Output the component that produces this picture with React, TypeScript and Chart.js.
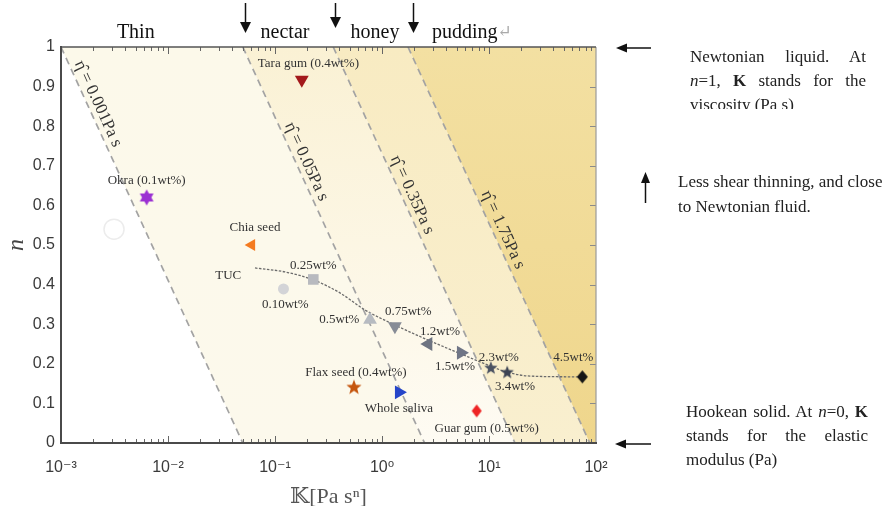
import React, { useEffect, useRef } from 'react';
import { Chart, registerables } from 'chart.js';

Chart.register(...registerables);

const SERIF = "'Liberation Serif', 'Times New Roman', 'DejaVu Serif', 'DejaVu Sans', serif";
const SANS = "'Liberation Sans', Arial, 'DejaVu Sans', sans-serif";

// ---------------- data ----------------
const X_MIN = 1e-3;
const X_MAX = 1e2;

// iso-viscosity lines (eta_hat) : K at n = 1 and K at n = 0
const etaLabels = ['0.001', '0.05', '0.35', '1.75'];
const lineKAtN1 = [0.001, 0.05, 0.35, 1.75];
const lineKAtN0 = [0.05, 2.5, 17.5, 87.5];
const etaLabelN = [0.846, 0.70, 0.616, 0.528];

// texture regimes above the plot
const regimeLabels = ['Thin', 'nectar', 'honey', 'pudding'];
const regimeLabelK = [0.005, 0.124, 0.86, 2.93];
const regimeArrowK = [0.0525, 0.364, 1.95];

// individual samples
const sampleNames = ['Tara gum (0.4wt%)', 'Okra (0.1wt%)', 'Chia seed', 'Flax seed (0.4wt%)', 'Whole saliva', 'Guar gum (0.5wt%)'];
const sampleK = [0.178, 0.00632, 0.0605, 0.547, 1.44, 7.67];
const sampleN = [0.917, 0.620, 0.500, 0.140, 0.128, 0.081];

// TUC series
const tucConc = ['0.10wt%', '0.25wt%', '0.5wt%', '0.75wt%', '1.2wt%', '1.5wt%', '2.3wt%', '3.4wt%', '4.5wt%'];
const tucK = [0.120, 0.228, 0.773, 1.32, 2.71, 5.47, 10.4, 14.8, 74.5];
const tucN = [0.389, 0.413, 0.311, 0.295, 0.250, 0.228, 0.189, 0.178, 0.167];

// TUC trend curve
const fitK = [0.065, 0.124, 0.228, 0.405, 0.693, 1.32, 2.69, 5.47, 10.4, 14.7, 24.2, 74.5];
const fitN = [0.442, 0.432, 0.412, 0.379, 0.336, 0.298, 0.260, 0.225, 0.194, 0.179, 0.169, 0.167];

// faint leftover marker
const ghostK = [0.00313];
const ghostN = [0.540];

// ---------------- styles ----------------
const regionTop = ['#fcf9ea', '#faf1d4', '#f8ebc2', '#f3e0a2'];
const regionBottom = ['#fcf9ec', '#fefbf3', '#f9efcf', '#efd68c'];

type Mk = { shape: string; color: string; r?: number; rot?: number; w?: number; h?: number };
const sampleStyle: Mk[] = [
  { shape: 'tri', rot: 180, color: '#a3191b', r: 8 },
  { shape: 'hex', color: '#9b30d2', r: 8 },
  { shape: 'tri', rot: -90, color: '#f47b20', r: 7 },
  { shape: 'star', color: '#c5560e', r: 8 },
  { shape: 'tri', rot: 90, color: '#2545c9', r: 8 },
  { shape: 'diamond', color: '#ee2424', w: 10, h: 13 },
];
const sampleLabelOffset = [[6.6, -16.7], [0, -16.6], [3.3, -17.3], [2, -15], [0, 16], [10, 17.3]];

const tucStyle: Mk[] = [
  { shape: 'circle', color: '#d3d4d7', r: 5.5 },
  { shape: 'rect', color: '#b8babf', r: 7.5 },
  { shape: 'tri', rot: 0, color: '#b7bbc1', r: 8 },
  { shape: 'tri', rot: 180, color: '#878c96', r: 8 },
  { shape: 'tri', rot: -90, color: '#6d7381', r: 8 },
  { shape: 'tri', rot: 90, color: '#6f7586', r: 8 },
  { shape: 'star', color: '#4b5262', r: 7 },
  { shape: 'star', color: '#3d4454', r: 7 },
  { shape: 'diamond', color: '#151515', w: 11, h: 13 },
];
const tucLabelOffset = [[1.7, 16], [0, -13.6], [-30.7, 0], [13.3, -14.3], [11.7, -12.3], [-6, 14.3], [8, -10.6], [7.7, 14], [-9, -19.4]];
const tucNameOffset = [-26.7, 7.3];

function starCanvas(points: number, rOuter: number, rInner: number, color: string) {
  const size = Math.ceil(rOuter * 2 + 2);
  const c = document.createElement('canvas');
  c.width = size;
  c.height = size;
  const g = c.getContext('2d')!;
  g.fillStyle = color;
  g.beginPath();
  for (let i = 0; i < points * 2; i++) {
    const r = i % 2 ? rInner : rOuter;
    const a = -Math.PI / 2 + (i * Math.PI) / points;
    const px = size / 2 + r * Math.cos(a);
    const py = size / 2 + r * Math.sin(a);
    if (i === 0) g.moveTo(px, py);
    else g.lineTo(px, py);
  }
  g.closePath();
  g.fill();
  return c;
}

function diamondCanvas(w: number, h: number, color: string) {
  const c = document.createElement('canvas');
  c.width = Math.ceil(w + 2);
  c.height = Math.ceil(h + 2);
  const g = c.getContext('2d')!;
  const cx = c.width / 2;
  const cy = c.height / 2;
  g.fillStyle = color;
  g.beginPath();
  g.moveTo(cx, cy - h / 2);
  g.lineTo(cx + w / 2, cy);
  g.lineTo(cx, cy + h / 2);
  g.lineTo(cx - w / 2, cy);
  g.closePath();
  g.fill();
  return c;
}

function markerStyle(s: Mk) {
  switch (s.shape) {
    case 'star':
      return { style: starCanvas(5, s.r!, s.r! * 0.42, s.color) as any, radius: s.r!, rot: 0 };
    case 'hex':
      return { style: starCanvas(6, s.r!, s.r! * 0.58, s.color) as any, radius: s.r!, rot: 0 };
    case 'diamond':
      return { style: diamondCanvas(s.w!, s.h!, s.color) as any, radius: s.h! / 2, rot: 0 };
    case 'tri':
      return { style: 'triangle' as any, radius: s.r!, rot: s.rot || 0 };
    default:
      return { style: s.shape as any, radius: s.r!, rot: 0 };
  }
}

const SUP: Record<string, string> = { '-': '\u207B', '0': '\u2070', '1': '\u00B9', '2': '\u00B2', '3': '\u00B3' };
const sup = (s: string) => s.split('').map((c) => SUP[c] || c).join('');

function drawArrow(ctx: CanvasRenderingContext2D, x1: number, y1: number, x2: number, y2: number, len: number, half: number) {
  const a = Math.atan2(y2 - y1, x2 - x1);
  const bx = x2 - len * Math.cos(a);
  const by = y2 - len * Math.sin(a);
  ctx.beginPath();
  ctx.moveTo(x1, y1);
  ctx.lineTo(bx, by);
  ctx.stroke();
  ctx.beginPath();
  ctx.moveTo(x2, y2);
  ctx.lineTo(bx + half * Math.sin(a), by - half * Math.cos(a));
  ctx.lineTo(bx - half * Math.sin(a), by + half * Math.cos(a));
  ctx.closePath();
  ctx.fill();
}

const regionPlugin = {
  id: 'regions',
  beforeDatasetsDraw(chart: any) {
    const { ctx, chartArea, scales } = chart;
    const { left, right, top, bottom } = chartArea;
    const x = scales.x;
    const y = scales.y;
    ctx.save();
    ctx.beginPath();
    ctx.rect(left, top, right - left, bottom - top);
    ctx.clip();
    for (let i = 0; i < lineKAtN1.length; i++) {
      const kTA = lineKAtN1[i];
      const kBA = lineKAtN0[i];
      const kTB = i + 1 < lineKAtN1.length ? lineKAtN1[i + 1] : X_MAX;
      const kBB = i + 1 < lineKAtN0.length ? lineKAtN0[i + 1] : X_MAX;
      const g = ctx.createLinearGradient(0, top, 0, bottom);
      g.addColorStop(0, regionTop[i]);
      g.addColorStop(1, regionBottom[i]);
      ctx.fillStyle = g;
      ctx.beginPath();
      ctx.moveTo(x.getPixelForValue(kTA), y.getPixelForValue(1));
      ctx.lineTo(x.getPixelForValue(kTB), y.getPixelForValue(1));
      ctx.lineTo(x.getPixelForValue(kBB), y.getPixelForValue(0));
      ctx.lineTo(x.getPixelForValue(kBA), y.getPixelForValue(0));
      ctx.closePath();
      ctx.fill();
    }
    ctx.restore();
  },
};

const annotationPlugin = {
  id: 'annotations',
  afterDatasetsDraw(chart: any) {
    const { ctx, chartArea, scales } = chart;
    const { left, right, top, bottom } = chartArea;
    const x = scales.x;
    const y = scales.y;
    ctx.save();

    // iso-viscosity labels
    ctx.fillStyle = '#333';
    ctx.font = `17px ${SERIF}`;
    ctx.textAlign = 'center';
    ctx.textBaseline = 'middle';
    for (let i = 0; i < etaLabels.length; i++) {
      const x1 = x.getPixelForValue(lineKAtN1[i]);
      const y1 = y.getPixelForValue(1);
      const x0 = x.getPixelForValue(lineKAtN0[i]);
      const y0 = y.getPixelForValue(0);
      const a = Math.atan2(y0 - y1, x0 - x1);
      const t = 1 - etaLabelN[i];
      const px = x1 + t * (x0 - x1) + 10 * Math.sin(a);
      const py = y1 + t * (y0 - y1) - 10 * Math.cos(a);
      ctx.save();
      ctx.translate(px, py);
      ctx.rotate(a);
      ctx.fillText(`\u03B7\u0302 = ${etaLabels[i]}Pa s`, 0, 0);
      ctx.restore();
    }

    // sample labels
    ctx.font = `13px ${SERIF}`;
    ctx.fillStyle = '#333';
    for (let i = 0; i < sampleNames.length; i++) {
      const px = x.getPixelForValue(sampleK[i]) + sampleLabelOffset[i][0];
      const py = y.getPixelForValue(sampleN[i]) + sampleLabelOffset[i][1];
      ctx.fillText(sampleNames[i], px, py);
    }
    for (let i = 0; i < tucConc.length; i++) {
      const px = x.getPixelForValue(tucK[i]) + tucLabelOffset[i][0];
      const py = y.getPixelForValue(tucN[i]) + tucLabelOffset[i][1];
      ctx.fillText(tucConc[i], px, py);
    }
    ctx.fillText('TUC', x.getPixelForValue(fitK[0]) + tucNameOffset[0], y.getPixelForValue(fitN[0]) + tucNameOffset[1]);

    // spines and inward ticks
    ctx.lineCap = 'butt';
    ctx.strokeStyle = '#666';
    ctx.lineWidth = 1;
    for (let d = -3; d < 2; d++) {
      for (let m = 1; m < 10; m++) {
        const px = Math.round(x.getPixelForValue(m * Math.pow(10, d))) + 0.5;
        const len = m === 1 ? 7 : 4;
        ctx.beginPath();
        ctx.moveTo(px, bottom);
        ctx.lineTo(px, bottom - len);
        ctx.moveTo(px, top);
        ctx.lineTo(px, top + len);
        ctx.stroke();
      }
    }
    ctx.strokeStyle = '#8a8a8a';
    for (let v = 1; v < 10; v++) {
      const py = Math.round(y.getPixelForValue(v / 10)) + 0.5;
      ctx.beginPath();
      ctx.moveTo(right, py);
      ctx.lineTo(right - 6, py);
      ctx.stroke();
    }
    ctx.strokeStyle = '#9a9a9a';
    ctx.lineWidth = 1.2;
    ctx.beginPath();
    ctx.moveTo(right, top);
    ctx.lineTo(right, bottom);
    ctx.stroke();
    ctx.strokeStyle = '#555';
    ctx.lineWidth = 1.5;
    ctx.beginPath();
    ctx.moveTo(left, top);
    ctx.lineTo(right, top);
    ctx.stroke();
    ctx.strokeStyle = '#4a4a4a';
    ctx.lineWidth = 2;
    ctx.beginPath();
    ctx.moveTo(left, top - 1);
    ctx.lineTo(left, bottom);
    ctx.lineTo(right + 1, bottom);
    ctx.stroke();
    ctx.restore();
  },
  afterDraw(chart: any) {
    const { ctx, scales } = chart;
    const x = scales.x;
    const y = scales.y;
    ctx.save();
    ctx.fillStyle = '#111';
    ctx.strokeStyle = '#111';
    ctx.lineWidth = 1.5;
    ctx.font = `20px ${SERIF}`;
    ctx.textBaseline = 'alphabetic';
    for (let i = 0; i < regimeLabels.length; i++) {
      const px = x.getPixelForValue(regimeLabelK[i]);
      if (i === regimeLabels.length - 1) {
        ctx.textAlign = 'left';
        ctx.fillStyle = '#111';
        ctx.fillText(regimeLabels[i], px, 38);
        const w = ctx.measureText(regimeLabels[i]).width;
        ctx.fillStyle = '#aaa';
        ctx.font = `17px ${SERIF}`;
        ctx.fillText('\u21B5', px + w, 37);
        ctx.font = `20px ${SERIF}`;
        ctx.fillStyle = '#111';
      } else {
        ctx.textAlign = 'center';
        ctx.fillText(regimeLabels[i], px, 38);
      }
    }
    const tips = [33, 28, 33];
    for (let i = 0; i < regimeArrowK.length; i++) {
      const px = Math.round(x.getPixelForValue(regimeArrowK[i])) + 0.5;
      drawArrow(ctx, px, 3, px, tips[i], 11, 5.5);
    }
    const yTop = y.getPixelForValue(1) + 1;
    const yBot = y.getPixelForValue(0) + 1;
    drawArrow(ctx, 651, yTop, 616, yTop, 11, 4.5);
    drawArrow(ctx, 651, yBot, 615, yBot, 11, 4.5);
    drawArrow(ctx, 645.5, 203, 645.5, 172, 11, 4.5);
    ctx.restore();
  },
};

function buildConfig(): any {
  const sMk = sampleStyle.map(markerStyle);
  const tMk = tucStyle.map(markerStyle);
  const datasets: any[] = [
    {
      label: 'samples',
      data: sampleK.map((k, i) => ({ x: k, y: sampleN[i] })),
      pointStyle: sMk.map((m) => m.style),
      pointRadius: sMk.map((m) => m.radius),
      pointRotation: sMk.map((m) => m.rot),
      pointBackgroundColor: sampleStyle.map((s) => s.color),
      pointBorderColor: sampleStyle.map((s) => s.color),
      pointBorderWidth: 0,
      showLine: false,
      order: 0,
    },
    {
      label: 'TUC',
      data: tucK.map((k, i) => ({ x: k, y: tucN[i] })),
      pointStyle: tMk.map((m) => m.style),
      pointRadius: tMk.map((m) => m.radius),
      pointRotation: tMk.map((m) => m.rot),
      pointBackgroundColor: tucStyle.map((s) => s.color),
      pointBorderColor: tucStyle.map((s) => s.color),
      pointBorderWidth: 0,
      showLine: false,
      order: 0,
    },
    {
      label: 'ghost',
      data: ghostK.map((k, i) => ({ x: k, y: ghostN[i] })),
      pointStyle: 'circle',
      pointRadius: 10,
      pointBackgroundColor: '#ffffff',
      pointBorderColor: '#ececec',
      pointBorderWidth: 1.5,
      showLine: false,
      order: 0,
    },
    {
      label: 'TUC fit',
      data: fitK.map((k, i) => ({ x: k, y: fitN[i] })),
      showLine: true,
      borderColor: '#6b6b6b',
      borderWidth: 1.3,
      borderDash: [2.5, 1.5],
      pointRadius: 0,
      cubicInterpolationMode: 'monotone',
      fill: false,
      order: 1,
    },
  ];
  for (let i = 0; i < lineKAtN1.length; i++) {
    datasets.push({
      label: `eta ${etaLabels[i]}`,
      data: [
        { x: lineKAtN1[i], y: 1 },
        { x: lineKAtN0[i], y: 0 },
      ],
      showLine: true,
      borderColor: '#a3a3a3',
      borderWidth: 1.7,
      borderDash: [7, 5],
      pointRadius: 0,
      fill: false,
      order: 2,
    });
  }

  return {
    type: 'scatter',
    data: { datasets },
    options: {
      responsive: false,
      animation: false,
      events: [],
      layout: { padding: { top: 47, right: 298, left: 0, bottom: 0 } },
      plugins: { legend: { display: false }, tooltip: { enabled: false } },
      scales: {
        x: {
          type: 'logarithmic',
          min: X_MIN,
          max: X_MAX,
          grid: { display: false, drawTicks: false },
          border: { display: false },
          ticks: {
            autoSkip: false,
            maxRotation: 0,
            minRotation: 0,
            padding: 15,
            color: '#3a3a3a',
            font: { family: SANS, size: 16 },
            callback: (v: number) => {
              const e = Math.log10(v);
              const r = Math.round(e);
              if (Math.abs(e - r) < 1e-9) return '10' + sup(String(r));
              return '';
            },
          },
          title: {
            display: true,
            text: '\uD835\uDD42[Pa s\u207F]',
            color: '#555',
            font: { family: SERIF, size: 22, lineHeight: 0.8 },
            padding: { top: 0, bottom: 0 },
          },
          afterFit: (s: any) => {
            s.height = 63;
          },
        },
        y: {
          type: 'linear',
          min: 0,
          max: 1,
          grid: { display: false, drawTicks: false },
          border: { display: false },
          ticks: {
            stepSize: 0.1,
            padding: 6,
            color: '#3a3a3a',
            font: { family: SANS, size: 16 },
            callback: (v: number) => String(Math.round(v * 10) / 10),
          },
          title: {
            display: true,
            text: 'n',
            color: '#444',
            font: { family: SERIF, size: 24, style: 'italic' },
            padding: { top: 2, bottom: 0 },
          },
          afterFit: (s: any) => {
            s.width = 61;
          },
        },
      },
    },
    plugins: [regionPlugin, annotationPlugin],
  };
}

const note: React.CSSProperties = {
  position: 'absolute',
  fontFamily: SERIF,
  fontSize: 17,
  lineHeight: '24px',
  color: '#222',
  overflow: 'hidden',
};
const just: React.CSSProperties = { textAlign: 'justify', textAlignLast: 'justify' as any };

export default function App() {
  const ref = useRef<HTMLCanvasElement>(null);
  useEffect(() => {
    const canvas = ref.current;
    if (!canvas) return;
    const chart = new Chart(canvas, buildConfig());
    return () => chart.destroy();
  }, []);
  return (
    <div style={{ position: 'absolute', left: 0, top: 0, width: 894, height: 506, background: '#fff', overflow: 'hidden' }}>
      <canvas ref={ref} width={894} height={506} style={{ position: 'absolute', left: 0, top: 0, width: 894, height: 506 }} />
      <div style={{ ...note, left: 690, top: 45, width: 176, height: 64 }}>
        <div style={just}>Newtonian liquid. At</div>
        <div style={just}>
          <i>n</i>=1, <b>K</b> stands for the
        </div>
        <div>viscosity (Pa s)</div>
      </div>
      <div style={{ ...note, left: 678, top: 169, width: 216, lineHeight: '25px', whiteSpace: 'nowrap' }}>
        <div>Less shear thinning, and close</div>
        <div>to Newtonian fluid.</div>
      </div>
      <div style={{ ...note, left: 686, top: 400, width: 182 }}>
        <div style={just}>
          Hookean solid. At <i>n</i>=0, <b>K</b>
        </div>
        <div style={just}>stands for the elastic</div>
        <div>modulus (Pa)</div>
      </div>
    </div>
  );
}
